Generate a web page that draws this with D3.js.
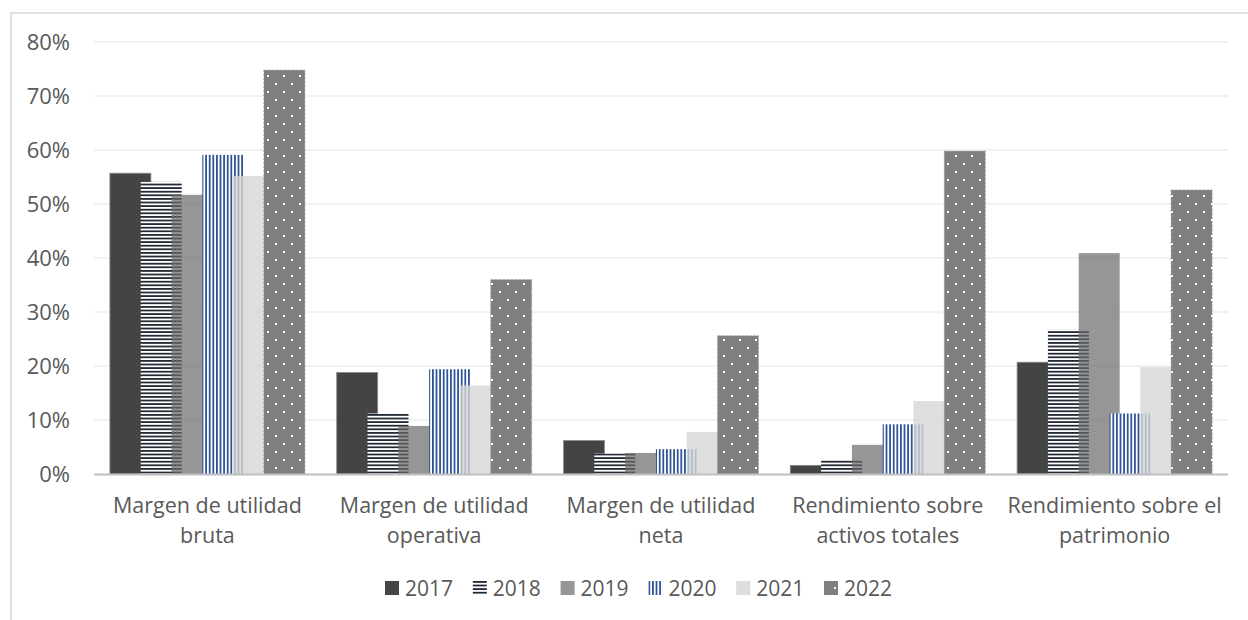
<!DOCTYPE html>
<html><head><meta charset="utf-8">
<script src="https://cdn.jsdelivr.net/npm/d3@7"></script>
<style>
html,body{margin:0;padding:0;background:#fff;}
svg{display:block;font-family:"Open Sans",sans-serif;}
</style></head>
<body><svg id="c" width="1248" height="620"></svg>
<script>
const categories = [
  ["Margen de utilidad","bruta"],
  ["Margen de utilidad","operativa"],
  ["Margen de utilidad","neta"],
  ["Rendimiento sobre","activos totales"],
  ["Rendimiento sobre el","patrimonio"]
];
const years = ["2017","2018","2019","2020","2021","2022"];
const v2017 = [0.557, 0.188, 0.062, 0.016, 0.207];
const v2018 = [0.541, 0.112, 0.038, 0.027, 0.267];
const v2019 = [0.517, 0.089, 0.039, 0.054, 0.409];
const v2020 = [0.591, 0.194, 0.046, 0.092, 0.112];
const v2021 = [0.552, 0.164, 0.078, 0.135, 0.198];
const v2022 = [0.748, 0.360, 0.256, 0.598, 0.526];
const series = [v2017, v2018, v2019, v2020, v2021, v2022];
const yTicks = [0,0.1,0.2,0.3,0.4,0.5,0.6,0.7,0.8];

const svg = d3.select("#c");
const defs = svg.append("defs");
const pH = defs.append("pattern").attr("id","pH").attr("patternUnits","userSpaceOnUse").attr("width",8).attr("height",3.6);
pH.append("rect").attr("width",8).attr("height",3.6).attr("fill","#fff");
pH.append("rect").attr("width",8).attr("height",1.8).attr("fill","#222a35");
const pV = defs.append("pattern").attr("id","pV").attr("patternUnits","userSpaceOnUse").attr("width",3.6).attr("height",8);
pV.append("rect").attr("width",3.6).attr("height",8).attr("fill","#fff");
pV.append("rect").attr("width",1.8).attr("height",8).attr("fill","#2f5597");
const pD = defs.append("pattern").attr("id","pD").attr("patternUnits","userSpaceOnUse").attr("width",16).attr("height",16);
pD.append("rect").attr("width",16).attr("height",16).attr("fill","#7f7f7f");
pD.append("rect").attr("x",3).attr("y",3).attr("width",2).attr("height",2).attr("fill","#fff");
pD.append("rect").attr("x",11).attr("y",11).attr("width",2).attr("height",2).attr("fill","#fff");

const styles = [
  {fill:"#444444", op:1, stroke:"#8a8a8a"},
  {fill:"url(#pH)", op:1, stroke:"none"},
  {fill:"#696969", op:0.7, stroke:"none"},
  {fill:"url(#pV)", op:1, stroke:"none"},
  {fill:"#d6d6d6", op:0.8, stroke:"none"},
  {fill:"url(#pD)", op:1, stroke:"#9a9a9a"}
];

svg.append("rect").attr("x",11).attr("y",13).attr("width",1260).attr("height",640)
  .attr("fill","none").attr("stroke","#d9d9d9").attr("stroke-width",1.5);

const pl = 94, pr = 1228, pt = 42, pb = 474;
const y = d3.scaleLinear().domain([0,0.8]).range([pb, pt]);
const x0 = d3.scaleBand().domain(d3.range(categories.length)).range([pl,pr]).padding(0);
const x1 = d3.scalePoint().domain(years).range([-77, 77]);
const barW = 41;

svg.append("g").selectAll("line").data(yTicks.filter(t=>t>0)).join("line")
  .attr("x1",pl).attr("x2",pr).attr("y1",d=>y(d)).attr("y2",d=>y(d))
  .attr("stroke","#ececec").attr("stroke-width",1.5);

svg.append("g").selectAll("text").data(yTicks).join("text")
  .attr("x",70).attr("y",d=>y(d)).attr("dy","0.36em").attr("text-anchor","end")
  .attr("font-size",22).attr("fill","#595959").text(d=>Math.round(d*100)+"%");

series.forEach((vals,si)=>{
  const st = styles[si];
  svg.append("g").selectAll("rect").data(vals).join("rect")
    .attr("x",(d,i)=>x0(i)+x0.bandwidth()/2 + x1(years[si]) - barW/2)
    .attr("y",d=>y(d)).attr("width",barW).attr("height",d=>pb-y(d))
    .attr("fill",st.fill).attr("fill-opacity",st.op)
    .attr("stroke",st.stroke).attr("stroke-width",0.8)
    .attr("stroke-dasharray", si===5 ? "2,2" : null);
});

svg.append("line").attr("x1",pl).attr("x2",pr).attr("y1",pb+0.5).attr("y2",pb+0.5)
  .attr("stroke","#bfbfbf").attr("stroke-width",2);

const cg = svg.append("g");
categories.forEach((lines,i)=>{
  const cx = x0(i)+x0.bandwidth()/2;
  const t = cg.append("text").attr("x",cx).attr("text-anchor","middle")
    .attr("font-size",21.5).attr("fill","#595959");
  lines.forEach((l,j)=>t.append("tspan").attr("x",cx).attr("y",505+j*30).attr("dy","0.36em").text(l));
});

const lg = svg.append("g");
years.forEach((yr,i)=>{
  const gx = 385 + i*87.8;
  const g = lg.append("g").attr("transform",`translate(${gx},581)`);
  const st = styles[i];
  if (i===5) {
    g.append("rect").attr("width",14).attr("height",14).attr("fill","#7f7f7f");
    g.append("rect").attr("x",10).attr("y",6).attr("width",2).attr("height",2).attr("fill","#fff");
  } else {
    g.append("rect").attr("width",14).attr("height",14).attr("fill",st.fill).attr("fill-opacity",st.op);
  }
  g.append("text").attr("x",20).attr("y",7).attr("dy","0.36em").attr("font-size",21)
    .attr("fill","#595959").text(yr);
});
</script></body></html>
